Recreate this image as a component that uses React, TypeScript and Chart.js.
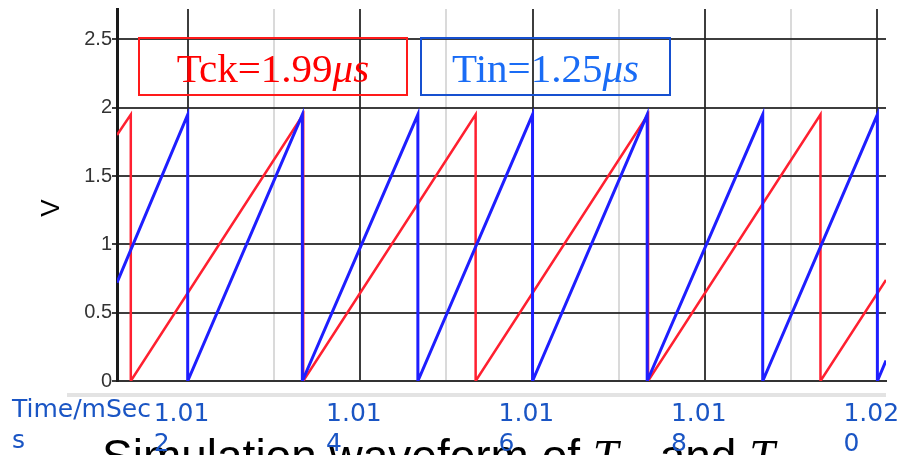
import React, { useEffect, useRef } from "react";
import { Chart, registerables } from "chart.js";

Chart.register(...registerables);

// ---------------- data (time in ms, voltage in V) ----------------
const xMin = 1.01118;
const xMax = 1.0201;
const yMin = 0;
const yMax = 2.723;

// Tck sawtooth (red) vertices
const tckTimes = [1.01118, 1.01134, 1.01134, 1.01334, 1.01334, 1.01534, 1.01534, 1.01734, 1.01734, 1.01934, 1.01934, 1.0201];
const tckVolts = [1.8, 1.95, 0, 1.95, 0, 1.95, 0, 1.95, 0, 1.95, 0, 0.74];

// Tin sawtooth (blue) vertices
const tinTimes = [1.01118, 1.012, 1.012, 1.01333, 1.01333, 1.01467, 1.01467, 1.016, 1.016, 1.01733, 1.01733, 1.01867, 1.01867, 1.02, 1.02, 1.0201];
const tinVolts = [0.72, 1.95, 0, 1.95, 0, 1.95, 0, 1.95, 0, 1.95, 0, 1.95, 0, 1.95, 0, 0.15];

const xGridValues = [1.012, 1.013, 1.014, 1.015, 1.016, 1.017, 1.018, 1.019, 1.02];
const xLabelValues = [1.012, 1.014, 1.016, 1.018, 1.02];
const yTickValues = [0, 0.5, 1, 1.5, 2, 2.5];

const tckLabel = "Tck=1.99";
const tinLabel = "Tin=1.25";
const unitLabel = "μs";
const yTitle = "V";
const xTitleLines = ["Time/mSec", "s"];
const captionStart = "Simulation waveform of ";
const captionMid = " and ";
const symbolT = "T";
const subCk = "ck";
const subIn = "in";

// ---------------- styles ----------------
const DARK_GRID = "rgba(40,40,40,0.9)";
const LIGHT_GRID = "#dadada";
const LABEL_BLUE = "#1a55c4";
const RED = "#ff2030";
const BLUE = "#1e1eff";

const isMajor = (v: number) => xLabelValues.some((l) => Math.abs(l - v) < 1e-7);

function drawTag(ctx: CanvasRenderingContext2D, left: number, top: number, right: number, bottom: number, border: string, color: string, label: string) {
  ctx.save();
  ctx.strokeStyle = border;
  ctx.lineWidth = 2;
  ctx.strokeRect(left + 1, top + 1, right - left - 2, bottom - top - 2);
  const upright = '41px "Liberation Serif"';
  const italic = 'italic 41px "Liberation Serif"';
  ctx.font = upright;
  const w1 = ctx.measureText(label).width;
  ctx.font = italic;
  const w2 = ctx.measureText(unitLabel).width;
  const start = (left + right) / 2 - (w1 + w2) / 2;
  ctx.fillStyle = color;
  ctx.textAlign = "left";
  ctx.textBaseline = "alphabetic";
  ctx.font = upright;
  ctx.fillText(label, start, 82);
  ctx.font = italic;
  ctx.fillText(unitLabel, start + w1, 82);
  ctx.restore();
}

function drawCaption(ctx: CanvasRenderingContext2D) {
  ctx.save();
  ctx.fillStyle = "#000";
  ctx.textAlign = "left";
  ctx.textBaseline = "alphabetic";
  const base = 472;
  const sans = '46px "Liberation Sans"';
  const ital = 'italic 46px "Liberation Serif"';
  const sub = 'italic 32px "Liberation Serif"';
  let x = 102;
  const put = (t: string, font: string, dy: number) => {
    ctx.font = font;
    ctx.fillText(t, x, base + dy);
    x += ctx.measureText(t).width;
  };
  put(captionStart, sans, 0);
  put(symbolT, ital, 0);
  put(subCk, sub, 9);
  put(captionMid, sans, 0);
  put(symbolT, ital, 0);
  put(subIn, sub, 9);
  ctx.restore();
}

const overlayPlugin = {
  id: "overlay",
  afterDraw(chart: any) {
    const ctx: CanvasRenderingContext2D = chart.ctx;
    const xs = chart.scales.x;
    ctx.save();
    // light bar under the plot
    ctx.fillStyle = "#e3e3e3";
    ctx.fillRect(67, 393, 819, 4);

    // caption (mostly cut off at the bottom)
    drawCaption(ctx);

    // x tick labels, wrapped
    ctx.fillStyle = LABEL_BLUE;
    ctx.font = '25px "DejaVu Sans"';
    ctx.textAlign = "left";
    ctx.textBaseline = "alphabetic";
    xLabelValues.forEach((v) => {
      const s = v.toFixed(3);
      const px = xs.getPixelForValue(v);
      ctx.fillText(s.slice(0, 4), px - 34, 421);
      ctx.fillText(s.slice(4), px - 34, 451);
    });
    // x axis title
    ctx.fillText(xTitleLines[0], 12, 417);
    ctx.fillText(xTitleLines[1], 12, 448);

    // y axis title
    ctx.save();
    ctx.fillStyle = "#000";
    ctx.font = '26px "Liberation Sans"';
    ctx.translate(59, 208);
    ctx.rotate(-Math.PI / 2);
    ctx.textAlign = "center";
    ctx.textBaseline = "alphabetic";
    ctx.fillText(yTitle, 0, 0);
    ctx.restore();

    // annotation boxes
    drawTag(ctx, 138, 37, 408, 96, "#ff1a1a", "#ff0000", tckLabel);
    drawTag(ctx, 420, 37, 671, 96, "#1650d0", "#1a6cf5", tinLabel);
    ctx.restore();
  },
};

export default function App() {
  const ref = useRef<HTMLCanvasElement | null>(null);

  useEffect(() => {
    if (!ref.current) return;
    const tinData = tinTimes.map((x, i) => ({ x, y: tinVolts[i] }));
    const tckData = tckTimes.map((x, i) => ({ x, y: tckVolts[i] }));
    const chart = new Chart(ref.current, {
      type: "line",
      data: {
        datasets: [
          {
            label: "Tin",
            data: tinData,
            borderColor: BLUE,
            borderWidth: 3,
            pointRadius: 0,
            tension: 0,
            fill: false,
            order: 0,
          },
          {
            label: "Tck",
            data: tckData,
            borderColor: RED,
            borderWidth: 2.5,
            pointRadius: 0,
            tension: 0,
            fill: false,
            order: 1,
          },
        ],
      },
      options: {
        responsive: false,
        animation: false,
        devicePixelRatio: 1,
        layout: { padding: { left: 0, top: 9, right: 12, bottom: 0 } },
        plugins: {
          legend: { display: false },
          tooltip: { enabled: false },
          title: { display: false },
        },
        scales: {
          x: {
            type: "linear",
            min: xMin,
            max: xMax,
            afterBuildTicks: (scale: any) => {
              scale.ticks = xGridValues.map((v) => ({ value: v }));
            },
            afterFit: (scale: any) => {
              scale.height = 74;
              scale.paddingLeft = 0;
              scale.paddingRight = 0;
            },
            ticks: { display: false },
            grid: {
              drawTicks: false,
              lineWidth: 2,
              color: (c: any) => (c.tick && isMajor(c.tick.value) ? DARK_GRID : LIGHT_GRID),
            },
            border: { display: true, color: "#333", width: 2 },
          },
          y: {
            type: "linear",
            min: yMin,
            max: yMax,
            afterBuildTicks: (scale: any) => {
              scale.ticks = yTickValues.map((v) => ({ value: v }));
            },
            afterFit: (scale: any) => {
              scale.width = 117;
              scale.paddingTop = 0;
              scale.paddingBottom = 0;
            },
            ticks: {
              color: "#333333",
              font: { family: "Liberation Sans", size: 20 },
              padding: 0,
              callback: (v: any) => String(v),
            },
            grid: {
              color: DARK_GRID,
              lineWidth: 2,
              tickLength: 5,
              drawTicks: true,
            },
            border: { display: true, color: "#1a1a1a", width: 3 },
          },
        },
      },
      plugins: [overlayPlugin],
    });
    return () => chart.destroy();
  }, []);

  return (
    <div style={{ position: "fixed", left: 0, top: 0, width: 898, height: 455, background: "#fff", overflow: "hidden" }}>
      <canvas ref={ref} width={898} height={455} style={{ width: 898, height: 455, display: "block" }} />
    </div>
  );
}
